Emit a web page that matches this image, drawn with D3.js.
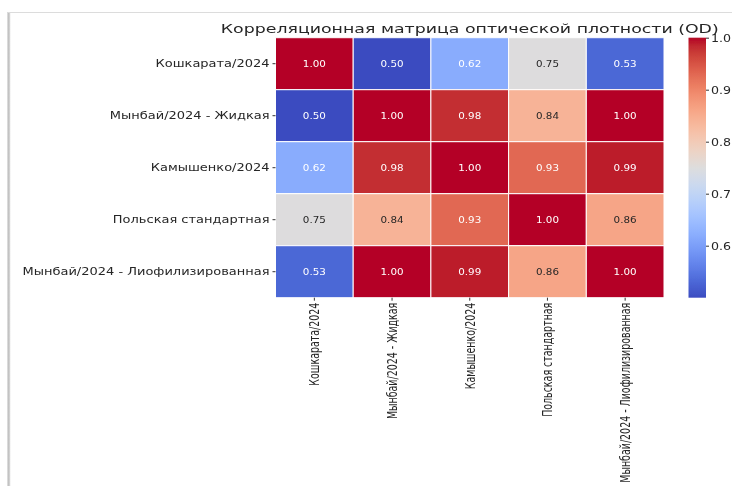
<!DOCTYPE html>
<html>
<head>
<meta charset="utf-8">
<script src="https://cdn.jsdelivr.net/npm/d3@7"></script>
<style>
  html, body { margin: 0; padding: 0; background: #fff; }
  svg { display: block; }
  text { font-family: "DejaVu Sans", sans-serif; }
</style>
</head>
<body>
<svg id="chart" width="732" height="486"></svg>
<script>
// Sample names (rows and columns share the same order)
const samples = [
  "Кошкарата/2024",
  "Мынбай/2024 - Жидкая",
  "Камышенко/2024",
  "Польская стандартная",
  "Мынбай/2024 - Лиофилизированная"
];

// Pairwise correlation of optical density, one array per row
const rowKoshkarata   = [1.00, 0.50, 0.62, 0.75, 0.53];
const rowMynbaiLiquid = [0.50, 1.00, 0.98, 0.84, 1.00];
const rowKamyshenko   = [0.62, 0.98, 1.00, 0.93, 0.99];
const rowPolish       = [0.75, 0.84, 0.93, 1.00, 0.86];
const rowMynbaiLyoph  = [0.53, 1.00, 0.99, 0.86, 1.00];
const correlation = [rowKoshkarata, rowMynbaiLiquid, rowKamyshenko, rowPolish, rowMynbaiLyoph];

// Colour bar range and ticks
const colorDomain = [0.50, 1.00];
const colorTicks = [0.6, 0.7, 0.8, 0.9, 1.0];

const titleText = "Корреляционная матрица оптической плотности (OD)";

// Diverging "coolwarm" colour map (Moreland), evenly spaced stops
const coolwarmStops = [
  [59,76,192],[68,90,204],[77,104,215],[87,117,225],[98,130,234],[108,142,241],
  [119,154,247],[130,165,251],[141,176,254],[152,185,255],[163,194,255],[174,201,253],
  [184,208,249],[194,213,244],[204,217,238],[213,219,230],[221,221,221],[229,216,209],
  [236,211,197],[241,204,185],[245,196,173],[247,187,160],[247,177,148],[247,166,135],
  [244,154,123],[241,141,111],[236,127,99],[229,112,88],[222,96,77],[213,80,66],
  [203,62,56],[192,40,47],[180,4,38]
].map(c => d3.rgb(c[0], c[1], c[2]).formatHex());
const coolwarm = d3.interpolateRgbBasis(coolwarmStops);

const svg = d3.select("#chart");
const defs = svg.append("defs");

// Gentle softening applied to the whole drawing
defs.append("filter").attr("id", "soft")
  .attr("x", "-2%").attr("y", "-2%").attr("width", "104%").attr("height", "104%")
  .append("feGaussianBlur").attr("stdDeviation", 0.35);

const root = svg.append("g").attr("filter", "url(#soft)");

// Stretch a text element along its own direction
function stretch(sel, k) {
  sel.each(function () {
    const len = this.getComputedTextLength();
    d3.select(this).attr("textLength", len * k).attr("lengthAdjust", "spacingAndGlyphs");
  });
}

// Page frame (left edge with a soft shadow, thin top rule)
const shade = defs.append("linearGradient").attr("id", "edgeShade")
  .attr("x1", "0").attr("x2", "1").attr("y1", "0").attr("y2", "0");
shade.append("stop").attr("offset", "0").attr("stop-color", "#e6e6e6");
shade.append("stop").attr("offset", "0.5").attr("stop-color", "#bdbdbd");
shade.append("stop").attr("offset", "1").attr("stop-color", "#ececec");
root.append("rect").attr("x", 7).attr("y", 12).attr("width", 3.5).attr("height", 474)
  .attr("fill", "url(#edgeShade)");
root.append("line").attr("x1", 8).attr("x2", 732).attr("y1", 12.5).attr("y2", 12.5)
  .attr("stroke", "#dcdcdc").attr("stroke-width", 1);

// Heatmap geometry
const plot = { left: 275.5, right: 664, top: 37.7, bottom: 297.7 };
const x = d3.scaleBand().domain(d3.range(samples.length)).range([plot.left, plot.right]);
const y = d3.scaleBand().domain(d3.range(samples.length)).range([plot.top, plot.bottom]);
const color = d3.scaleSequential(coolwarm).domain(colorDomain).clamp(true);

const g = root.append("g");

const cells = [];
correlation.forEach((row, i) => row.forEach((v, j) => cells.push({ i, j, v })));

g.selectAll("rect.cell").data(cells).enter().append("rect")
  .attr("class", "cell")
  .attr("x", d => x(d.j)).attr("y", d => y(d.i))
  .attr("width", x.bandwidth()).attr("height", y.bandwidth())
  .attr("fill", d => color(d.v))
  .attr("stroke", "#ffffff").attr("stroke-width", 1);

// Relative luminance decides the annotation colour
function luminance(c) {
  const rgb = d3.rgb(c);
  const lin = u => { u /= 255; return u <= 0.03928 ? u / 12.92 : Math.pow((u + 0.055) / 1.055, 2.4); };
  return 0.2126 * lin(rgb.r) + 0.7152 * lin(rgb.g) + 0.0722 * lin(rgb.b);
}

g.selectAll("text.annot").data(cells).enter().append("text")
  .attr("class", "annot")
  .attr("x", d => x(d.j) + x.bandwidth() / 2)
  .attr("y", d => y(d.i) + y.bandwidth() / 2)
  .attr("dy", "0.35em")
  .attr("text-anchor", "middle")
  .attr("font-size", 9)
  .attr("fill", d => luminance(color(d.v)) > 0.45 ? "#262626" : "#ffffff")
  .text(d => d3.format(".2f")(d.v))
  .call(stretch, 1.15);

// Row labels with tick marks
const yAxis = d3.axisLeft(y).tickSize(3).tickPadding(3).tickFormat(i => samples[i]);
const yG = root.append("g").attr("transform", `translate(${plot.left},0)`).call(yAxis);
yG.select(".domain").remove();
yG.selectAll(".tick line").attr("stroke", "#333");
yG.selectAll(".tick text").attr("font-size", 10.5).attr("fill", "#262626")
  .attr("font-family", "DejaVu Sans");
{
  let natLong = 0;
  yG.selectAll(".tick text").each(function () { natLong = Math.max(natLong, this.getComputedTextLength()); });
  yG.selectAll(".tick text").call(stretch, 247 / natLong);
}

// Column labels, rotated
const xAxis = d3.axisBottom(x).tickSize(3).tickPadding(3).tickFormat(i => samples[i]);
const xG = root.append("g").attr("transform", `translate(0,${plot.bottom})`).call(xAxis);
xG.select(".domain").remove();
xG.selectAll(".tick line").attr("stroke", "#333");
xG.selectAll(".tick text")
  .attr("font-size", 14).attr("fill", "#262626").attr("font-family", "DejaVu Sans")
  .attr("text-anchor", "end")
  .attr("transform", "rotate(-90)")
  .attr("x", -5).attr("y", 0).attr("dy", "0.35em");
{
  let natLong = 0;
  xG.selectAll(".tick text").each(function () { natLong = Math.max(natLong, this.getComputedTextLength()); });
  xG.selectAll(".tick text").call(stretch, 180 / natLong);
}

// Title
root.append("text")
  .attr("x", (plot.left + plot.right) / 2).attr("y", 33)
  .attr("text-anchor", "middle")
  .attr("font-size", 12.8).attr("fill", "#262626")
  .text(titleText)
  .attr("textLength", 498).attr("lengthAdjust", "spacingAndGlyphs");

// Colour bar
const cbar = { x: 688.5, width: 17.5 };
const cScale = d3.scaleLinear().domain(colorDomain).range([plot.bottom, plot.top]);
const grad = defs.append("linearGradient").attr("id", "cbarGrad")
  .attr("x1", "0").attr("x2", "0").attr("y1", "1").attr("y2", "0");
coolwarmStops.forEach((c, k) => {
  grad.append("stop").attr("offset", k / (coolwarmStops.length - 1)).attr("stop-color", c);
});
root.append("rect")
  .attr("x", cbar.x).attr("y", cScale(colorDomain[1]))
  .attr("width", cbar.width).attr("height", cScale(colorDomain[0]) - cScale(colorDomain[1]))
  .attr("fill", "url(#cbarGrad)");

const cAxis = d3.axisRight(cScale).tickValues(colorTicks).tickSize(3).tickPadding(2)
  .tickFormat(d3.format(".1f"));
const cG = root.append("g").attr("transform", `translate(${cbar.x + cbar.width},0)`).call(cAxis);
cG.select(".domain").remove();
cG.selectAll(".tick line").attr("stroke", "#333");
cG.selectAll(".tick text").attr("font-size", 10.5).attr("fill", "#262626")
  .attr("font-family", "DejaVu Sans")
  .call(stretch, 1.2);
</script>
</body>
</html>
